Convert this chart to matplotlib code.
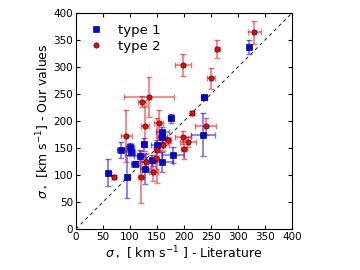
import matplotlib
matplotlib.use("Agg")
import matplotlib.pyplot as plt
import numpy as np

# type 1 (blue squares)
t1_x    = [60, 83, 95, 100, 101, 110, 118, 125, 128, 140, 150, 160, 160, 160, 175, 180, 235, 237, 320]
t1_y    = [104, 146, 97, 152, 143, 121, 136, 157, 111, 127, 155, 179, 170, 124, 205, 137, 175, 244, 337]
t1_xerr = [5, 7, 5, 8, 8, 8, 10, 5, 10, 10, 12, 12, 8, 20, 5, 20, 22, 5, 4]
t1_yerr = [25, 15, 40, 8, 8, 5, 10, 12, 28, 10, 10, 10, 8, 18, 8, 15, 40, 5, 13]

# type 2 (red circles)
t2_x    = [70, 93, 120, 122, 128, 130, 143, 148, 150, 153, 135, 162, 170, 198, 200, 208, 215, 240, 198, 250, 262, 330]
t2_y    = [96, 172, 97, 236, 190, 125, 106, 131, 146, 196, 245, 155, 165, 170, 149, 161, 215, 190, 304, 279, 333, 364]
t2_xerr = [4, 10, 5, 8, 8, 8, 8, 5, 5, 8, 47, 10, 5, 15, 5, 15, 4, 20, 15, 8, 5, 12]
t2_yerr = [4, 48, 48, 10, 38, 15, 18, 20, 60, 25, 37, 10, 5, 12, 20, 10, 4, 15, 20, 20, 17, 22]

lim = [0, 400]
ticks = [0, 50, 100, 150, 200, 250, 300, 350, 400]

fig = plt.figure(figsize=(3.6, 2.7), dpi=100)
ax = fig.add_axes([76/360, 41/270, 216/360, 216/270])

ax.plot(lim, lim, ls='--', color='#333333', lw=0.8, dashes=(3, 3), zorder=1)

ax.errorbar(t1_x, t1_y, xerr=t1_xerr, yerr=t1_yerr, fmt='none', ecolor='b',
            alpha=0.55, elinewidth=1.2, capsize=2, capthick=1, zorder=2)
ax.errorbar(t2_x, t2_y, xerr=t2_xerr, yerr=t2_yerr, fmt='none', ecolor='r',
            alpha=0.55, elinewidth=1.2, capsize=2, capthick=1, zorder=2)
ax.plot(t1_x, t1_y, 's', color='b', mec='k', mew=0.4, ms=4.3, ls='none', label='type 1', zorder=3)
ax.plot(t2_x, t2_y, 'o', color='r', mec='k', mew=0.4, ms=3.8, ls='none', label='type 2', zorder=3)

ax.set_xlim(lim)
ax.set_ylim(lim)
ax.set_xticks(ticks)
ax.set_yticks(ticks)
ax.tick_params(direction='in', top=True, right=True, labelsize=7.5, length=3, pad=2)
ax.set_xlabel(r'$\sigma_\star$ [ km s$^{-1}$ ] - Literature', fontsize=9, labelpad=2)
ax.set_ylabel(r'$\sigma_\star$ [km s$^{-1}$] - Our values', fontsize=9, labelpad=2)
ax.legend(loc='upper left', frameon=False, numpoints=1, fontsize=9.5,
          handletextpad=0.9, handlelength=1.5, borderaxespad=0.4,
          labelspacing=0.25, borderpad=0.4)

fig.savefig('out.png', dpi=100)
